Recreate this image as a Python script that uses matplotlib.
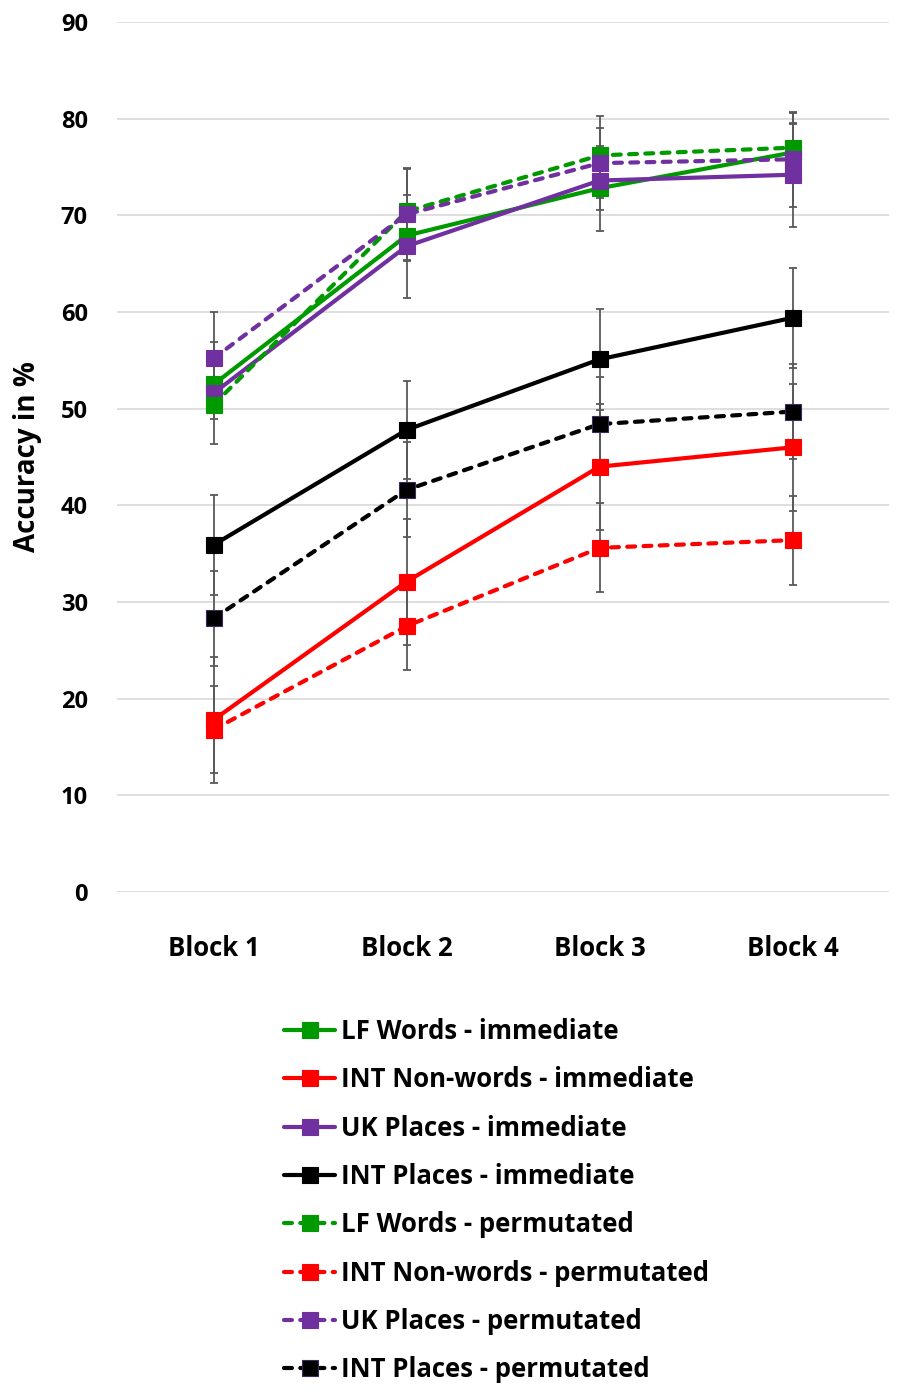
import matplotlib
matplotlib.use("Agg")
import matplotlib.pyplot as plt

plt.rcParams['font.family'] = ['Open Sans', 'DejaVu Sans']
plt.rcParams['font.weight'] = 'bold'

blocks = ["Block 1", "Block 2", "Block 3", "Block 4"]
y_ticks = [0, 10, 20, 30, 40, 50, 60, 70, 80, 90]

labels = ["LF Words - immediate", "INT Non-words - immediate", "UK Places - immediate",
          "INT Places - immediate", "LF Words - permutated", "INT Non-words - permutated",
          "UK Places - permutated", "INT Places - permutated"]

lf_imm = [52.5, 67.9, 72.8, 76.5]
nw_imm = [17.8, 32.1, 44.0, 46.0]
uk_imm = [51.6, 66.8, 73.6, 74.2]
ip_imm = [35.9, 47.8, 55.1, 59.4]
lf_perm = [50.4, 70.4, 76.2, 77.0]
nw_perm = [16.8, 27.5, 35.6, 36.4]
uk_perm = [55.2, 70.1, 75.4, 75.8]
ip_perm = [28.3, 41.6, 48.4, 49.7]

lf_imm_err = [2.0, 2.5, 4.4, 2.9]
nw_imm_err = [6.5, 6.5, 6.5, 6.6]
uk_imm_err = [5.3, 5.35, 3.0, 5.4]
ip_imm_err = [5.2, 5.1, 5.2, 5.2]
lf_perm_err = [1.5, 4.4, 4.1, 3.6]
nw_perm_err = [4.5, 4.5, 4.6, 4.6]
uk_perm_err = [4.8, 4.8, 3.6, 4.9]
ip_perm_err = [4.9, 4.9, 4.9, 4.9]

values = [lf_imm, nw_imm, uk_imm, ip_imm, lf_perm, nw_perm, uk_perm, ip_perm]
errors = [lf_imm_err, nw_imm_err, uk_imm_err, ip_imm_err,
          lf_perm_err, nw_perm_err, uk_perm_err, ip_perm_err]
colors = ["#009a00", "#ff0000", "#7030a0", "#000000",
          "#009a00", "#ff0000", "#7030a0", "#000000"]
edge_colors = ["#009a00", "#ff0000", "#7030a0", "#000000",
               "#009a00", "#ff0000", "#7030a0", "#3d2a5c"]
styles = ["solid"] * 4 + ["dashed"] * 4

W, H = 900, 1394
fig = plt.figure(figsize=(W / 100, H / 100), dpi=100)
ax = fig.add_axes([117 / W, 1 - 892 / H, 772 / W, 870 / H])

x = list(range(len(blocks)))
handles = []
for i in range(len(values)):
    ax.errorbar(x, values[i], yerr=errors[i], fmt='none', ecolor='#595959',
                elinewidth=1.3, capsize=3.2, capthick=1.3, zorder=2)
for i in range(len(values)):
    ls = (0, (1.9, 2.0)) if styles[i] == "dashed" else '-'
    ln, = ax.plot(x, values[i], color=colors[i], lw=3.0, linestyle=ls,
                  dash_capstyle='round', solid_capstyle='round',
                  marker='s', markersize=12, markerfacecolor=colors[i],
                  markeredgecolor=edge_colors[i], markeredgewidth=0.8,
                  label=labels[i], zorder=3 + i * 0.1)
    handles.append(ln)

ax.set_xlim(-0.5, 3.5)
ax.set_ylim(0, 90)
ax.set_yticks(y_ticks)
ax.set_xticks(x)
ax.set_xticklabels(blocks)
ax.grid(axis='y', color='#d9d9d9', lw=1.2, zorder=0)
ax.set_axisbelow(True)
for s in ax.spines.values():
    s.set_visible(False)
ax.tick_params(axis='both', length=0)
ax.tick_params(axis='y', labelsize=17, pad=21)
ax.tick_params(axis='x', labelsize=18.5, pad=31)
for t in ax.get_xticklabels() + ax.get_yticklabels():
    t.set_fontweight('bold')

ax.set_ylabel("Accuracy in %", fontsize=20, fontweight='bold')
ax.yaxis.set_label_coords(-0.097, 0.5)

fig.legend(handles=handles, loc='upper left',
           bbox_to_anchor=(284 / W, 1 - 1018 / H), frameon=False,
           fontsize=18.5, handlelength=2.0, handletextpad=0.2,
           labelspacing=0.83, borderpad=0, borderaxespad=0)

fig.savefig("out.png", dpi=100)
